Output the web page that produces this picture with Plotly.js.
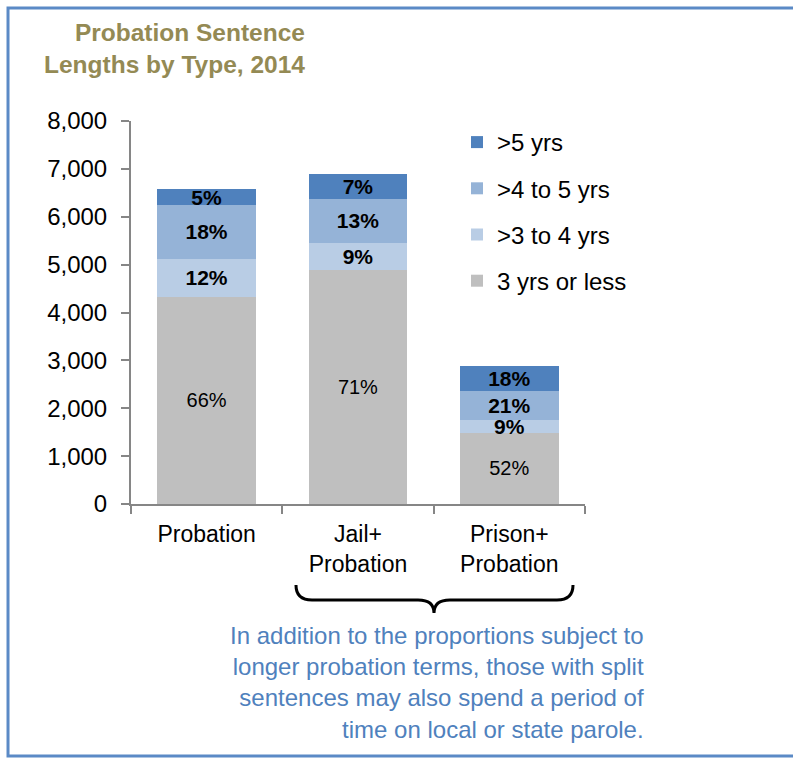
<!DOCTYPE html>
<html>
<head>
<meta charset="utf-8">
<script src="https://cdn.plot.ly/plotly-3.0.1.min.js"></script>
<style>
  html, body { margin: 0; padding: 0; background: #ffffff; }
  #chart { width: 793px; height: 759px; }
</style>
</head>
<body>
<div id="chart"></div>
<script>
// ---- data ----
var categories = ['Probation', 'Jail+<br>Probation', 'Prison+<br>Probation'];
var seriesNames = ['3 yrs or less', '>3 to 4 yrs', '>4 to 5 yrs', '>5 yrs'];
var yrs3OrLess = [4325, 4895, 1485];
var yrs3to4    = [795, 565, 275];
var yrs4to5    = [1125, 910, 595];
var yrsOver5   = [335, 520, 535];
var pct3OrLess = ['66%', '71%', '52%'];
var pct3to4    = ['12%', '9%', '9%'];
var pct4to5    = ['18%', '13%', '21%'];
var pctOver5   = ['5%', '7%', '18%'];
var yTickVals  = [0, 1000, 2000, 3000, 4000, 5000, 6000, 7000, 8000];

var FONT = 'Liberation Sans, Arial, sans-serif';
var colors = ['#BFBFBF', '#B9CDE5', '#95B3D7', '#4F81BD'];
var values = [yrs3OrLess, yrs3to4, yrs4to5, yrsOver5];
var labels = [pct3OrLess, pct3to4, pct4to5, pctOver5];

var traces = values.map(function (v, i) {
  return {
    type: 'bar',
    name: seriesNames[i],
    x: categories,
    y: v,
    text: labels[i],
    textposition: 'inside',
    insidetextanchor: 'middle',
    textangle: 0,
    constraintext: 'none',
    textfont: {family: FONT, size: i === 0 ? 20 : 21, color: '#000000', weight: i === 0 ? 'normal' : 'bold'},
    marker: {color: colors[i], line: {width: 0}},
    legendgroup: 'g' + i,
    legendrank: 4 - i,
    hoverinfo: 'none'
  };
});

// plot area in pixels (from the reference)
var L = 131, R = 585, T = 121, B = 504;
function px(x) { return ((x - L) / (R - L)).toFixed(4); }
function py(y) { return ((B - y) / (B - T)).toFixed(4); }

// curly brace under the split-sentence categories
var bracePath =
  'M' + px(296) + ',' + py(585) +
  ' Q' + px(296) + ',' + py(600) + ' ' + px(312) + ',' + py(600) +
  ' L' + px(418) + ',' + py(600) +
  ' Q' + px(434) + ',' + py(600) + ' ' + px(434) + ',' + py(613) +
  ' Q' + px(434) + ',' + py(600) + ' ' + px(450) + ',' + py(600) +
  ' L' + px(557) + ',' + py(600) +
  ' Q' + px(573) + ',' + py(600) + ' ' + px(573) + ',' + py(585);

var layout = {
  width: 793,
  height: 759,
  margin: {l: L, r: 793 - R, t: T, b: 759 - B, pad: 0},
  paper_bgcolor: '#ffffff',
  plot_bgcolor: '#ffffff',
  barmode: 'stack',
  bargap: 0.35,
  showlegend: true,
  font: {family: FONT, color: '#000000'},
  legend: {
    x: (457 - L) / (R - L),
    xanchor: 'left',
    y: (B - 120) / (B - T),
    yanchor: 'top',
    traceorder: 'grouped',
    tracegroupgap: 12,
    font: {family: FONT, size: 24, color: '#000000'},
    bgcolor: 'rgba(0,0,0,0)'
  },
  xaxis: {
    type: 'category',
    showline: true,
    linecolor: '#868686',
    linewidth: 2,
    ticks: 'outside',
    tickson: 'boundaries',
    ticklen: 8,
    tickwidth: 2,
    tickcolor: '#868686',
    ticklabelstandoff: 8,
    showgrid: false,
    tickfont: {family: FONT, size: 23, color: '#000000'},
    fixedrange: true
  },
  yaxis: {
    range: [0, 8000],
    tickvals: yTickVals,
    tickformat: ',d',
    showline: true,
    linecolor: '#868686',
    linewidth: 2,
    ticks: 'outside',
    ticklen: 8,
    tickwidth: 2,
    tickcolor: '#868686',
    ticklabelstandoff: 9,
    showgrid: false,
    zeroline: false,
    tickfont: {family: FONT, size: 24, color: '#000000'},
    fixedrange: true
  },
  annotations: [
    {
      xref: 'paper', yref: 'paper',
      x: px(307), y: py(48),
      xanchor: 'right', yanchor: 'middle', align: 'right',
      showarrow: false,
      text: '<b>Probation Sentence<br>Lengths by Type, 2014</b>',
      font: {family: FONT, size: 24.5, color: '#948A54'}
    },
    {
      xref: 'paper', yref: 'paper',
      x: px(646), y: py(682),
      xanchor: 'right', yanchor: 'middle', align: 'right',
      showarrow: false,
      text: 'In addition to the proportions subject to<br>longer probation terms, those with split<br>sentences may also spend a period of<br>time on local or state parole.',
      font: {family: FONT, size: 24, color: '#4F81BD'}
    }
  ],
  shapes: [
    {
      type: 'rect', xref: 'paper', yref: 'paper',
      x0: px(8), x1: px(805), y0: py(756), y1: py(8),
      line: {color: '#5B8AC6', width: 3},
      fillcolor: 'rgba(0,0,0,0)'
    },
    {
      type: 'path', xref: 'paper', yref: 'paper',
      path: bracePath,
      line: {color: '#000000', width: 3}
    }
  ]
};

Plotly.newPlot('chart', traces, layout, {displayModeBar: false, staticPlot: true});
</script>
</body>
</html>
